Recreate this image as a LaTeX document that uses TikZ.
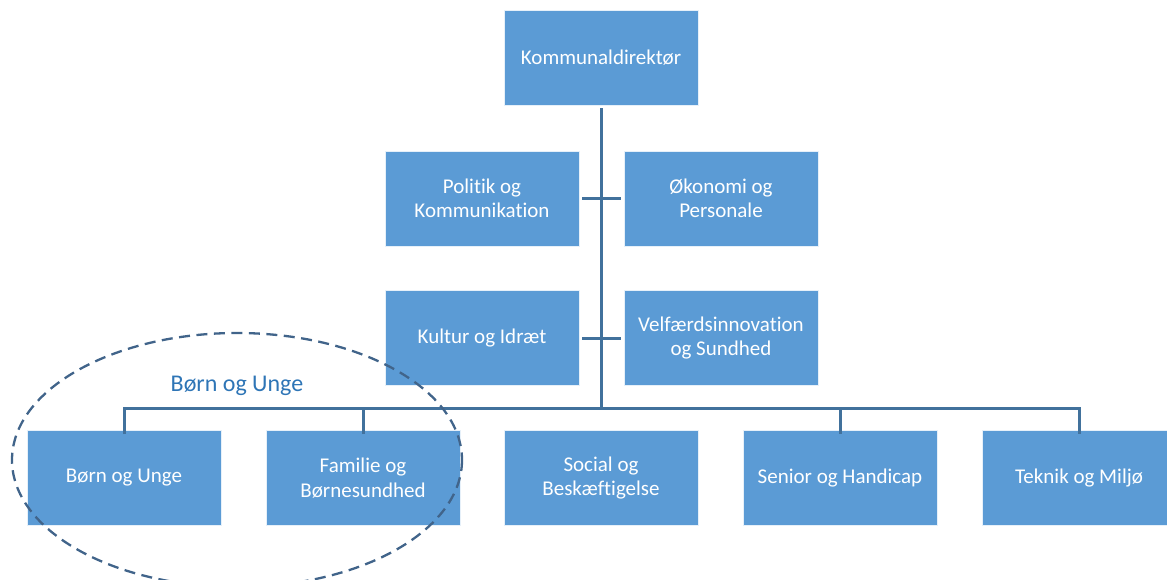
\documentclass[tikz,border=0pt]{standalone}
\usepackage{fontspec}
\setmainfont[Ligatures=NoCommon]{Carlito}
\definecolor{boxblue}{HTML}{5B9BD5}
\definecolor{linecol}{HTML}{41719C}
\definecolor{labelblue}{HTML}{2E75B6}
\definecolor{ellcol}{HTML}{41648A}
\begin{document}
\begin{tikzpicture}[x=1pt,y=-1pt,
  unit/.style={rectangle,fill=boxblue,draw=white!85!boxblue,line width=0.8pt,minimum width=194pt,minimum height=95pt,inner sep=0pt,align=center,text=white,font=\fontsize{21}{24.5}\selectfont},
  conn/.style={draw=linecol,line width=3pt}]
\useasboundingbox (0,0) rectangle (1167,580);
\node[unit] (kd) at (601,57.5) {Kommunaldirektør};
\node[unit] (pk) at (482,198.5) {Politik og\\Kommunikation};
\node[unit] (op) at (721,198.5) {Økonomi og\\Personale};
\node[unit] (ki) at (482,338) {Kultur og Idræt};
\node[unit] (vs) at (721,338) {Velfærdsinnovation\\og Sundhed};
\node[unit] (bu) at (124,478) {Børn og Unge};
\node[unit] (fb) at (363,478) {Familie og\\Børnesundhed};
\node[unit] (sb) at (601,478) {Social og\\Beskæftigelse};
\node[unit] (sh) at (840,478) {Senior og Handicap};
\node[unit] (tm) at (1079,478) {Teknik og Miljø};
\coordinate (bus) at (601,408);
\coordinate (busl) at (124,408);
\coordinate (busr) at (1079,408);
\draw[conn] ([yshift=-3pt]kd.south) -- (bus);
\draw[conn] ([xshift=3pt]pk.east) -- ([xshift=-3pt]op.west);
\draw[conn] ([xshift=3pt]ki.east) -- ([xshift=-3pt]vs.west);
\draw[conn] ([yshift=-4pt]bu.north) -- (busl) -- (busr) -- ([yshift=-4pt]tm.north);
\draw[conn] ([yshift=-4pt]fb.north) -- (fb.north |- bus);
\draw[conn] ([yshift=-4pt]sh.north) -- (sh.north |- bus);
\node[text=labelblue,font=\fontsize{24}{28}\selectfont] (lbl) at (237,386) {Børn og Unge};
\draw[ellcol,line width=2.3pt,dash pattern=on 11pt off 6.5pt] (237,460) ellipse [x radius=225, y radius=127];
\end{tikzpicture}
\end{document}
